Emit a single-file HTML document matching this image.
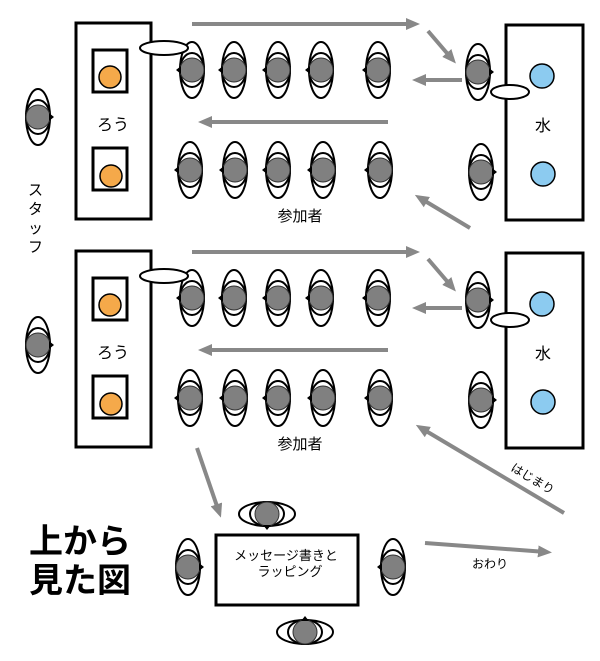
<!DOCTYPE html>
<html><head><meta charset="utf-8"><style>
html,body{margin:0;padding:0;background:#fff;}
svg{display:block;font-family:"Liberation Sans","Noto Sans CJK JP",sans-serif;}
</style></head><body>
<svg width="600" height="661" viewBox="0 0 600 661" xmlns="http://www.w3.org/2000/svg">
<defs>
<g id="pl">
<ellipse cx="0" cy="0" rx="12" ry="28" fill="#fff" stroke="#000" stroke-width="2"/>
<ellipse cx="0" cy="0" rx="12" ry="17" fill="none" stroke="#000" stroke-width="2"/>
<circle cx="0" cy="0" r="12" fill="#808080" stroke="#333" stroke-width="1"/>
<polygon points="-11,-4 -16,0 -11,4" fill="#000"/>
</g>
<g id="pr"><use href="#pl" transform="scale(-1,1)"/></g>
<g id="pd"><use href="#pl" transform="rotate(-90)"/></g>
<g id="pu"><use href="#pl" transform="rotate(90)"/></g>
<marker id="ah" markerWidth="14" markerHeight="12" refX="8" refY="6" orient="auto" markerUnits="userSpaceOnUse">
<path d="M0,0 L14,6 L0,12 Z" fill="#888"/></marker>
<g id="sec">
<rect x="76" y="23" width="75" height="196" fill="#fff" stroke="#000" stroke-width="3"/>
<rect x="93" y="50" width="34" height="42" fill="#fff" stroke="#000" stroke-width="3"/>
<circle cx="110" cy="77" r="11" fill="#f5a94a" stroke="#000" stroke-width="1.5"/>
<rect x="93" y="148" width="34" height="42" fill="#fff" stroke="#000" stroke-width="3"/>
<circle cx="111" cy="176" r="11" fill="#f5a94a" stroke="#000" stroke-width="1.5"/>
<text x="113" y="130" font-size="16" text-anchor="middle">ろう</text>
<rect x="506" y="25" width="77" height="195" fill="#fff" stroke="#000" stroke-width="3"/>
<circle cx="542" cy="76" r="12" fill="#8ccbf0" stroke="#000" stroke-width="1.5"/>
<circle cx="543" cy="174" r="12" fill="#8ccbf0" stroke="#000" stroke-width="1.5"/>
<text x="543" y="131" font-size="16" text-anchor="middle">水</text>
<use href="#pl" x="192" y="70"/><use href="#pl" x="234" y="70"/><use href="#pl" x="278" y="70"/><use href="#pl" x="321" y="70"/><use href="#pl" x="378" y="70"/>
<use href="#pl" x="190" y="170"/><use href="#pl" x="235" y="170"/><use href="#pl" x="278" y="170"/><use href="#pl" x="323" y="170"/><use href="#pl" x="380" y="170"/>
<use href="#pr" x="478" y="72"/><use href="#pr" x="481" y="172"/>
<ellipse cx="164" cy="48" rx="24" ry="7" fill="#fff" stroke="#000" stroke-width="2"/>
<ellipse cx="510" cy="92" rx="19" ry="7" fill="#fff" stroke="#000" stroke-width="2"/>
<g stroke="#888" stroke-width="4" fill="none" marker-end="url(#ah)">
<line x1="192" y1="24" x2="414" y2="24"/>
<line x1="428" y1="31" x2="452" y2="59"/>
<line x1="462" y1="80" x2="418" y2="80"/>
<line x1="388" y1="122" x2="204" y2="122"/>
</g>
<text x="300" y="221" font-size="15" text-anchor="middle">参加者</text>
</g>
</defs>
<use href="#sec"/>
<use href="#sec" y="228"/>
<use href="#pr" x="38" y="117"/>
<use href="#pr" x="38" y="345"/>
<text font-size="15" transform="translate(28,195)"><tspan x="0" dy="0">ス</tspan><tspan x="0" dy="19">タ</tspan><tspan x="0" dy="19">ッ</tspan><tspan x="0" dy="19">フ</tspan></text>
<g stroke="#888" stroke-width="4" fill="none" marker-end="url(#ah)">
<line x1="470" y1="228" x2="420" y2="198"/>
<line x1="564" y1="513" x2="421" y2="428"/>
<line x1="197" y1="448" x2="219" y2="512"/>
<line x1="425" y1="543" x2="546" y2="552"/>
</g>
<text x="0" y="0" font-size="12" transform="translate(510,470) rotate(31)">はじまり</text>
<text x="490" y="568" font-size="12" text-anchor="middle">おわり</text>
<rect x="216" y="535" width="142" height="70" fill="#fff" stroke="#000" stroke-width="3"/>
<text x="286" y="560" font-size="13" text-anchor="middle">メッセージ書きと</text>
<text x="290" y="576" font-size="13" text-anchor="middle">ラッピング</text>
<use href="#pd" x="267" y="514"/>
<use href="#pu" x="305" y="632"/>
<use href="#pr" x="188" y="567"/>
<use href="#pl" x="393" y="567"/>
<text x="29" y="553" font-size="34" font-weight="bold">上から</text>
<text x="29" y="592" font-size="34" font-weight="bold">見た図</text>
</svg>
</body></html>
